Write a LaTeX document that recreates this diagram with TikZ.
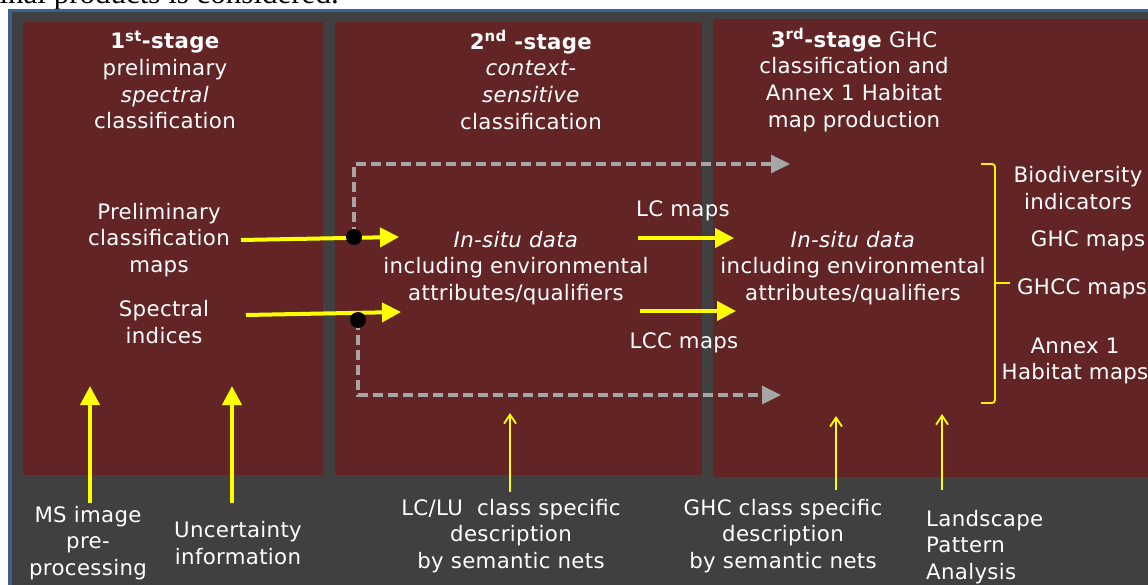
\documentclass[tikz,border=0pt]{standalone}
\usepackage{fontspec}
\setmainfont{DejaVu Sans}[LetterSpace=1.5]
\newfontfamily\capserif{Liberation Serif}
\usetikzlibrary{arrows.meta}
\definecolor{panelred}{HTML}{622424}
\definecolor{framegray}{HTML}{404040}
\definecolor{frameblue}{HTML}{3C5F8E}
\definecolor{dashgray}{HTML}{A6A6A6}
\definecolor{brightyellow}{HTML}{FFFF00}
\tikzset{
  x=1pt, y=-1pt,
  txt/.style={text=white, align=center, inner sep=0pt, font=\fontsize{21.3}{26.6}\selectfont},
  txtl/.style={txt, align=left},
  panel/.style={fill=panelred, draw=none},
  bigarrow/.style={draw=brightyellow, line width=4pt, -{Triangle[length=19pt,width=19pt]}, fill=brightyellow},
  thinarrow/.style={draw=brightyellow, line width=1.8pt, -{Straight Barb[length=9pt,width=12pt,line width=1.8pt]}},
  dasharrow/.style={draw=dashgray, line width=3.4pt, dash pattern=on 10pt off 5pt, -{Triangle[length=19pt,width=18pt,fill=dashgray]}},
  junction/.style={circle, fill=black, inner sep=0pt, minimum size=16pt},
  bracestyle/.style={draw=brightyellow!90!orange, line width=1.8pt, rounded corners=3pt},
}
\begin{document}
\begin{tikzpicture}
\useasboundingbox (0,0) rectangle (1148,585);
\begin{scope}
\clip (0,0) rectangle (1148,585);
% caption fragment above
\node[anchor=base west, inner sep=0pt, font=\capserif\fontsize{31}{34}\selectfont] (caption) at (-11,3.5) {final products is considered.};
% frame
\fill[frameblue] (8,9) rectangle (1160,600);
\fill[framegray] (12,12) rectangle (1160,600);
% panels
\fill[panel] (23,22) rectangle (323,475);
\fill[panel] (335,22) rectangle (702,475);
\fill[panel] (713,19) rectangle (1160,477);

% titles
\node[txt] (t1) at (165,80) {\textbf{1\textsuperscript{st}-stage}\\preliminary\\\textit{spectral}\\classification};
\node[txt] (t2) at (531,80) {\textbf{2\textsuperscript{nd} -stage}\\\textit{context-}\\\textit{sensitive}\\classification};
\node[txt] (t3) at (854,80) {\textbf{3\textsuperscript{rd}-stage} GHC\\classification and\\Annex 1 Habitat\\map production};

% stage 1 contents
\node[txt] (pcm) at (159,240) {Preliminary\\classification\\maps};
\node[txt] (si) at (164,322) {Spectral\\indices};

% stage 2 contents
\node[txt] (ins2) at (516,268) {\textit{In-situ data}\\including environmental\\attributes/qualifiers};
\node[txt] (lc) at (683,211) {LC maps};
\node[txt] (lcc) at (684,343) {LCC maps};

% stage 3 contents
\node[txt] (ins3) at (853,268) {\textit{In-situ data}\\including environmental\\attributes/qualifiers};
\node[txt] (bio) at (1078,188) {Biodiversity\\indicators};
\node[txt] (ghc) at (1088,241) {GHC maps};
\node[txt] (ghcc) at (1082,289) {GHCC maps};
\node[txt] (annex) at (1075,361) {Annex 1\\Habitat maps};

% bottom texts
\node[txt] (ms) at (88,543) {MS image\\pre-\\processing};
\node[txt] (unc) at (238,543) {Uncertainty\\information};
\node[txt] (lclu) at (511,536) {LC/LU\ \ class specific\\description\\by semantic nets};
\node[txt] (ghcd) at (783,536) {GHC class specific\\description\\by semantic nets};
\node[txtl, anchor=west] (lpa) at (926,547) {Landscape\\Pattern\\Analysis};

% coordinates
\coordinate (a1s) at (241,240);
\coordinate (a1e) at (399,237);
\coordinate (a2s) at (246,315);
\coordinate (a2e) at (401,312);
\coordinate (a3s) at (638,238);
\coordinate (a3e) at (734,238);
\coordinate (a4s) at (640,311);
\coordinate (a4e) at (736,311);
\coordinate (up1) at (354,164);
\coordinate (up1e) at (790,164);
\coordinate (dn1) at (358,395);
\coordinate (dn1e) at (781,395);
\coordinate (msS) at (90,503);
\coordinate (msE) at (90,386);
\coordinate (unS) at (232,503);
\coordinate (unE) at (232,386);
\coordinate (lcS) at (510,492);
\coordinate (lcE) at (510,413);
\coordinate (ghS) at (836,490);
\coordinate (ghE) at (836,416);
\coordinate (lpS) at (942,490);
\coordinate (lpE) at (942,414);

% dashed branches
\draw[dasharrow] (354,237) -- (up1) -- (up1e);
\draw[dasharrow] (358,320) -- (dn1) -- (dn1e);

% yellow arrows
\draw[bigarrow] (a1s) -- (a1e);
\draw[bigarrow] (a2s) -- (a2e);
\draw[bigarrow] (a3s) -- (a3e);
\draw[bigarrow] (a4s) -- (a4e);
\node[junction] (j1) at (354,237) {};
\node[junction] (j2) at (358,320) {};

\draw[bigarrow] (msS) -- (msE);
\draw[bigarrow] (unS) -- (unE);
\draw[thinarrow] (lcS) -- (lcE);
\draw[thinarrow] (ghS) -- (ghE);
\draw[thinarrow] (lpS) -- (lpE);

% brace
\coordinate (brtop) at (981,164);
\coordinate (brbot) at (981,403);
\coordinate (brtip) at (1010,283);
\draw[bracestyle] (brtop) -- (995,164) -- (995,403) -- (brbot);
\draw[bracestyle] (995,283) -- (brtip);
\end{scope}
\end{tikzpicture}
\end{document}
